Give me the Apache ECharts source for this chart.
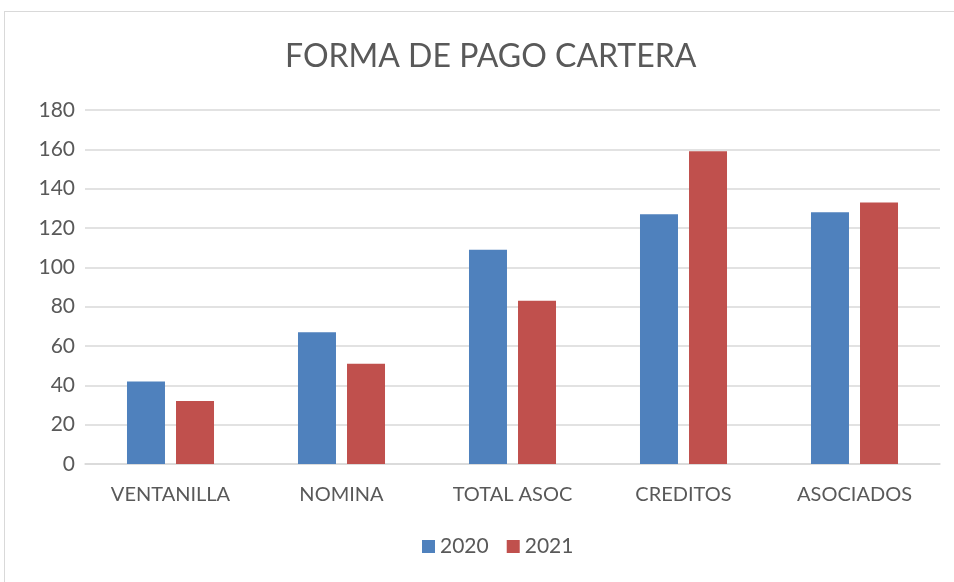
<!DOCTYPE html>
<html>
<head>
<meta charset="utf-8">
<script src="https://cdn.jsdelivr.net/npm/echarts@6/dist/echarts.min.js"></script>
<style>
  html, body { margin: 0; padding: 0; background: #fff; }
  #frame { position: absolute; left: 4px; top: 11px; width: 960px; height: 580px; border: 1px solid #d9d9d9; box-sizing: border-box; }
  #chart { position: absolute; left: 0; top: 0; width: 954px; height: 582px; }
</style>
</head>
<body>
<div id="frame"></div>
<div id="chart"></div>
<script>
const categories = ['VENTANILLA', 'NOMINA', 'TOTAL ASOC', 'CREDITOS', 'ASOCIADOS'];
const values2020 = [42, 67, 109, 127, 128];
const values2021 = [32, 51, 83, 159, 133];

const font = 'Lato, "Open Sans", sans-serif';
const chart = echarts.init(document.getElementById('chart'));
chart.setOption({
  animation: false,
  title: {
    text: 'FORMA DE PAGO CARTERA',
    left: 280,
    top: 36,
    textStyle: { fontFamily: font, fontSize: 32, fontWeight: 'normal', color: '#595959' },
  },
  legend: {
    bottom: 20,
    left: 417,
    itemWidth: 13,
    itemHeight: 13,
    itemGap: 18,
    icon: 'rect',
    textStyle: { fontFamily: font, fontSize: 21, color: '#595959' },
    data: ['2020', '2021'],
  },
  grid: { left: 85, right: 14, top: 110, bottom: 118 },
  xAxis: {
    type: 'category',
    data: categories,
    axisLine: { lineStyle: { color: '#d9d9d9', width: 1.5 } },
    axisTick: { show: false },
    axisLabel: { fontFamily: font, fontSize: 20, color: '#595959', margin: 21 },
  },
  yAxis: {
    type: 'value',
    min: 0,
    max: 180,
    interval: 20,
    axisLine: { show: false },
    axisTick: { show: false },
    axisLabel: { fontFamily: font, fontSize: 21, color: '#595959', margin: 10 },
    splitLine: { lineStyle: { color: '#d9d9d9', width: 1.5 } },
  },
  series: [
    {
      name: '2020',
      type: 'bar',
      data: values2020,
      barWidth: 38,
      barGap: '29%',
      itemStyle: { color: '#4f81bd' },
    },
    {
      name: '2021',
      type: 'bar',
      data: values2021,
      barWidth: 38,
      itemStyle: { color: '#c0504d' },
    },
  ],
});
</script>
</body>
</html>
